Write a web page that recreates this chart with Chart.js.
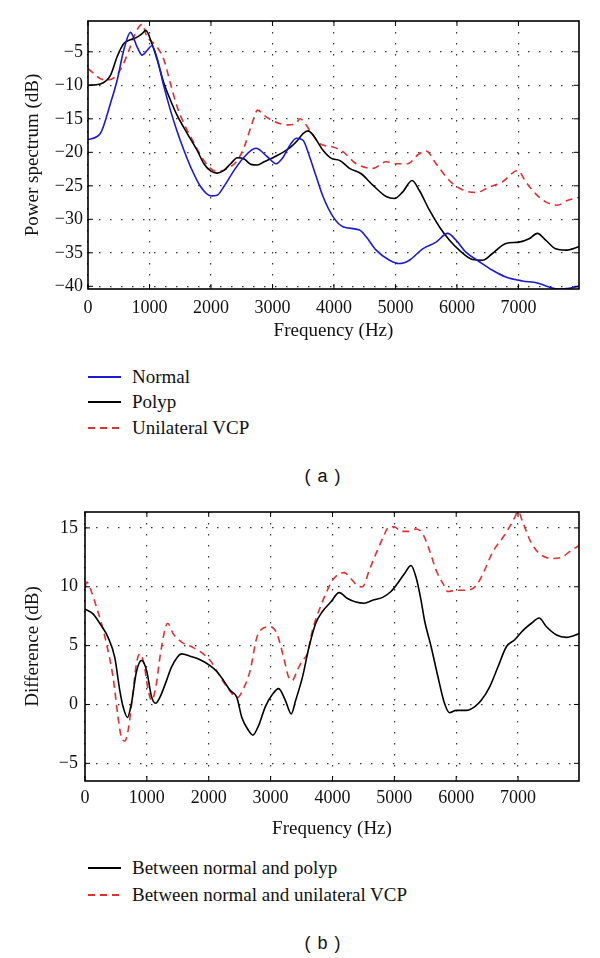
<!DOCTYPE html>
<html>
<head>
<meta charset="utf-8">
<script src="https://cdn.jsdelivr.net/npm/chart.js@4/dist/chart.umd.min.js"></script>
<style>
  body { margin: 0; background: #fff; width: 600px; height: 958px; position: relative; overflow: hidden; font-family: "Liberation Serif", serif; color: #111; }
  .box { position: absolute; left: 0; width: 600px; }
  #boxA { top: 0; height: 346px; }
  #boxB { top: 490px; height: 354px; }
  .item { position: absolute; left: 88px; height: 24px; line-height: 24px; font-family: "Liberation Serif", serif; font-size: 19px; white-space: nowrap; }
  .swatch { position: absolute; left: 0; top: 11.25px; width: 33px; height: 1.5px; }
  .label { position: absolute; left: 44px; top: 0; }
  .dash { background: repeating-linear-gradient(to right, #e03030 0 7px, transparent 7px 12px); }
  .panel { position: absolute; width: 80px; margin-left: -40px; text-align: center; font-family: "Liberation Sans", sans-serif; font-size: 18px; height: 24px; line-height: 24px; letter-spacing: 1px; }
</style>
</head>
<body>
<div class="box" id="boxA"><canvas id="chartA"></canvas></div>
<div class="box" id="boxB"><canvas id="chartB"></canvas></div>

<div class="item" style="top:365px"><div class="swatch" style="background:#1a1ad0"></div><div class="label">Normal</div></div>
<div class="item" style="top:390px"><div class="swatch" style="background:#000"></div><div class="label">Polyp</div></div>
<div class="item" style="top:416px"><div class="swatch dash"></div><div class="label">Unilateral VCP</div></div>
<div class="panel" style="left:323px; top:464px">( a )</div>

<div class="item" style="top:856px"><div class="swatch" style="background:#000"></div><div class="label">Between normal and polyp</div></div>
<div class="item" style="top:883px"><div class="swatch dash"></div><div class="label">Between normal and unilateral VCP</div></div>
<div class="panel" style="left:323px; top:931px">( b )</div>

<script>
// Tick values
const freqTicks = [0, 1000, 2000, 3000, 4000, 5000, 6000, 7000];
const powerTicks = [-40, -35, -30, -25, -20, -15, -10, -5];
const diffTicks = [-5, 0, 5, 10, 15];

// Panel (a): power spectrum, dB vs Hz
const normalFreq = [0,200,365,475,580,690,800,880,960,1040,1125,1235,1340,1450,1560,1670,1830,2000,2100,2210,2375,2540,2730,2920,3060,3160,3300,3390,3497,3605,3714,3822,3984,4146,4416,4524,4686,4903,5065,5227,5443,5660,5849,5984,6146,6362,6578,6795,7065,7308,7497,7659,7822,7985];
const normalDb = [-18.1,-17.2,-12.7,-9.2,-4.8,-2.1,-4.3,-5.5,-4.8,-4.1,-6.0,-10.2,-13.7,-16.9,-19.7,-22.2,-25.1,-26.5,-26.4,-25.1,-22.7,-20.7,-19.4,-20.7,-21.7,-20.9,-18.7,-17.9,-18.2,-20.7,-23.7,-26.6,-29.6,-31.1,-31.6,-32.6,-34.6,-36.1,-36.6,-36.1,-34.4,-33.4,-32.1,-33.1,-34.9,-36.3,-37.6,-38.6,-39.2,-39.5,-40.1,-40.4,-40.3,-40.0];

const polypFreq = [0,200,365,475,580,690,800,880,940,1040,1125,1235,1340,1450,1615,1775,1885,2000,2100,2210,2320,2430,2540,2650,2755,2865,3030,3190,3300,3410,3497,3578,3659,3822,3957,4092,4254,4443,4632,4849,4984,5119,5270,5389,5551,5714,5876,6038,6254,6416,6578,6795,7011,7173,7308,7443,7605,7768,7985];
const polypDb = [-10.0,-9.8,-8.5,-5.7,-3.8,-3.2,-2.8,-2.3,-1.8,-3.8,-6.2,-9.7,-12.2,-14.5,-17.2,-19.7,-21.7,-22.8,-23.1,-22.7,-21.7,-20.8,-21.0,-21.8,-21.9,-21.4,-20.7,-19.9,-19.2,-18.2,-17.2,-16.8,-17.4,-19.7,-20.9,-21.2,-22.4,-23.2,-24.9,-26.6,-26.9,-25.9,-24.2,-25.7,-28.6,-31.1,-33.1,-34.6,-36.0,-36.1,-35.1,-33.6,-33.4,-32.9,-32.1,-33.1,-34.4,-34.6,-34.1];

const vcpFreq = [0,92,200,310,445,555,665,745,826,880,960,1040,1125,1235,1340,1450,1560,1700,1830,1970,2100,2265,2430,2540,2650,2760,2865,3030,3245,3380,3450,3605,3768,3984,4146,4362,4632,4849,5011,5200,5362,5497,5660,5876,6092,6308,6524,6741,6990,7119,7281,7443,7632,7795,7985];
const vcpDb = [-7.5,-8.2,-9.0,-9.2,-8.7,-7.2,-4.8,-2.8,-1.3,-0.9,-2.8,-3.5,-4.3,-6.2,-9.7,-13.2,-15.7,-18.2,-20.4,-22.2,-22.9,-22.4,-21.2,-19.2,-16.2,-13.7,-14.5,-15.4,-15.9,-15.7,-15.0,-16.7,-18.7,-19.2,-19.9,-21.7,-22.4,-21.4,-21.7,-21.7,-20.4,-19.8,-21.7,-24.2,-25.6,-26.0,-25.2,-24.4,-22.7,-24.4,-26.2,-27.4,-27.9,-27.2,-26.7];

// Panel (b): difference from normal, dB vs Hz
const diffPolypFreq = [0,130,238,373,481,562,616,686,751,832,914,995,1076,1140,1210,1319,1400,1562,1697,1860,2022,2130,2238,2346,2454,2535,2643,2714,2805,2914,3022,3130,3238,3335,3405,3514,3622,3730,3838,3973,4108,4243,4378,4514,4649,4811,4946,5054,5162,5270,5351,5432,5486,5595,5703,5811,5892,6000,6162,6297,6405,6541,6676,6811,6946,7081,7216,7341,7459,7622,7784,7985];
const diffPolypDb = [8.1,7.7,6.9,5.7,4.0,1.2,-0.2,-1.1,0.1,2.8,3.75,2.9,0.65,0.1,0.6,2.05,3.2,4.3,4.1,3.8,3.3,2.8,2.05,1.2,0.6,-1.1,-2.2,-2.6,-1.8,-0.2,0.8,1.35,0.35,-0.8,0.35,2.3,4.9,6.9,7.9,8.7,9.5,9.0,8.7,8.6,8.85,9.1,9.6,10.3,11.1,11.8,10.8,8.85,7.2,4.9,2.4,0.1,-0.7,-0.5,-0.5,-0.2,0.35,1.5,3.2,4.9,5.5,6.3,6.9,7.35,6.6,5.9,5.7,6.0];

const diffVcpFreq = [0,30,103,184,265,346,454,535,589,643,697,768,832,886,951,1022,1076,1146,1211,1276,1335,1427,1562,1724,1859,2022,2157,2292,2400,2465,2562,2670,2778,2859,2995,3103,3211,3292,3351,3432,3514,3595,3676,3784,3892,4000,4108,4189,4297,4405,4486,4595,4703,4811,4919,5000,5108,5216,5351,5459,5568,5676,5784,5865,6000,6162,6324,6432,6595,6757,6865,6946,7000,7081,7216,7351,7541,7703,7838,7985];
const diffVcpDb = [10.0,10.4,9.6,8.3,6.9,5.2,2.3,-1.1,-2.8,-3.1,-2.2,0.65,3.5,4.3,3.5,1.2,0.35,1.5,4.0,6.0,6.9,6.0,5.3,4.9,4.5,3.75,2.6,1.5,0.8,0.6,1.35,2.9,5.7,6.4,6.6,6.0,4.0,2.3,2.05,2.9,3.75,4.3,6.3,8.0,9.4,10.55,11.1,11.2,10.7,10.1,10.0,11.4,12.8,14.1,15.1,15.1,14.7,14.7,14.9,14.5,13.1,11.4,10.3,9.6,9.7,9.7,10.1,11.1,13.0,14.2,15.1,15.9,16.4,15.4,13.7,12.8,12.4,12.5,13.0,13.5];

const BLUE = '#1a1ad0';
const RED = '#e03030';

Chart.defaults.font.family = '"Liberation Serif", serif';
Chart.defaults.color = '#111';

function pairs(xs, ys) {
    return xs.map((x, i) => ({ x: x, y: ys[i] }));
}

function series(label, xs, ys, color, dashed) {
    return {
        label: label,
        data: pairs(xs, ys),
        borderColor: color,
        borderWidth: 1.6,
        borderDash: dashed ? [7, 5] : [],
        pointRadius: 0,
        fill: false,
        cubicInterpolationMode: 'monotone'
    };
}

const minusSign = v => String(v).replace('-', '\u2212');
const fixedTicks = values => scale => { scale.ticks = values.map(v => ({ value: v })); };

// Box around the plot with small inward ticks on all four sides
const frameTicks = {
    id: 'frameTicks',
    afterDraw(chart) {
        const { ctx, chartArea: a, scales: { x, y } } = chart;
        ctx.save();
        ctx.strokeStyle = '#000';
        ctx.lineWidth = 1;
        ctx.beginPath();
        x.ticks.forEach(t => {
            const px = x.getPixelForValue(t.value);
            ctx.moveTo(px, a.bottom); ctx.lineTo(px, a.bottom - 5);
            ctx.moveTo(px, a.top); ctx.lineTo(px, a.top + 5);
        });
        y.ticks.forEach(t => {
            const py = y.getPixelForValue(t.value);
            ctx.moveTo(a.left, py); ctx.lineTo(a.left + 5, py);
            ctx.moveTo(a.right, py); ctx.lineTo(a.right - 5, py);
        });
        ctx.stroke();
        ctx.lineWidth = 1.6;
        ctx.strokeRect(a.left, a.top, a.width, a.height);
        ctx.restore();
    }
};

function makeOptions(cfg) {
    const grid = { color: '#333', lineWidth: 1.2, drawTicks: false };
    const border = { display: false, dash: [1.5, 9.5] };
    return {
        responsive: true,
        maintainAspectRatio: false,
        animation: false,
        layout: { padding: { top: cfg.padTop, right: 21, left: 0, bottom: 0 } },
        plugins: { legend: { display: false }, tooltip: { enabled: false } },
        scales: {
            x: {
                type: 'linear',
                min: 0,
                max: 7985,
                border: border,
                grid: grid,
                afterBuildTicks: fixedTicks(freqTicks),
                ticks: { padding: cfg.xPad, font: { size: 18 }, maxRotation: 0, autoSkip: false, callback: v => String(v) },
                title: { display: true, text: 'Frequency (Hz)', font: { size: 19 }, padding: { top: 4, bottom: 4 } },
                afterFit: s => { s.height = cfg.xHeight; }
            },
            y: {
                type: 'linear',
                min: cfg.yMin,
                max: cfg.yMax,
                border: border,
                grid: grid,
                afterBuildTicks: fixedTicks(cfg.yTicks),
                ticks: { padding: cfg.yPad, font: { size: 18 }, autoSkip: false, callback: minusSign },
                title: { display: true, text: cfg.yTitle, font: { size: 19 }, padding: { top: 22, bottom: 0 } },
                afterFit: s => { s.width = cfg.yWidth; }
            }
        }
    };
}

let chartA, chartB;

function initializeCharts() {
    chartA = new Chart(document.getElementById('chartA').getContext('2d'), {
        type: 'line',
        data: {
            datasets: [
                series('Normal', normalFreq, normalDb, BLUE, false),
                series('Polyp', polypFreq, polypDb, '#000', false),
                series('Unilateral VCP', vcpFreq, vcpDb, RED, true)
            ]
        },
        options: makeOptions({ padTop: 21, xHeight: 57, xPad: 8, yMin: -40.4, yMax: -0.4, yTicks: powerTicks, yPad: 5, yWidth: 88, yTitle: 'Power spectrum (dB)' }),
        plugins: [frameTicks]
    });

    chartB = new Chart(document.getElementById('chartB').getContext('2d'), {
        type: 'line',
        data: {
            datasets: [
                series('Between normal and polyp', diffPolypFreq, diffPolypDb, '#000', false),
                series('Between normal and unilateral VCP', diffVcpFreq, diffVcpDb, RED, true)
            ]
        },
        options: makeOptions({ padTop: 22, xHeight: 63, xPad: 6, yMin: -6.5, yMax: 16.35, yTicks: diffTicks, yPad: 7, yWidth: 85, yTitle: 'Difference (dB)' }),
        plugins: [frameTicks]
    });
}

initializeCharts();
</script>
</body>
</html>
